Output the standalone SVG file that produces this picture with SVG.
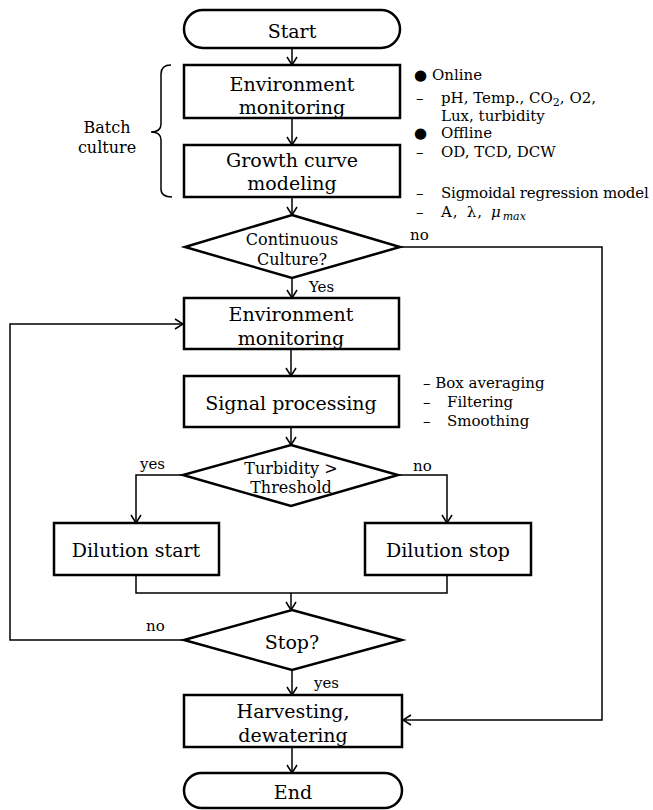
<svg xmlns="http://www.w3.org/2000/svg" width="653" height="810" viewBox="0 0 653 810">
<defs>
<style>
.box{fill:#fff;stroke:#000;stroke-width:2.5}
.ln{fill:none;stroke:#000;stroke-width:1.5}
.t{font-family:"DejaVu Serif","Liberation Serif",serif;font-size:19px;fill:#000;text-anchor:middle}
.d{font-family:"DejaVu Serif","Liberation Serif",serif;font-size:16px;fill:#000;text-anchor:middle}
.s{font-family:"DejaVu Serif","Liberation Serif",serif;font-size:15px;fill:#000}
</style>
<marker id="ar" viewBox="0 0 12 12" refX="11" refY="6" markerWidth="12" markerHeight="12" markerUnits="userSpaceOnUse" orient="auto">
<path d="M3,1 L11,6 L3,11" fill="none" stroke="#000" stroke-width="1.5"/>
</marker>
</defs>
<rect width="653" height="810" fill="#fff"/>

<g id="connectors">
<line class="ln" x1="292" y1="48" x2="292" y2="65" marker-end="url(#ar)"/>
<line class="ln" x1="292" y1="118" x2="292" y2="145" marker-end="url(#ar)"/>
<line class="ln" x1="292" y1="197" x2="292" y2="215" marker-end="url(#ar)"/>
<line class="ln" x1="292" y1="278" x2="292" y2="298" marker-end="url(#ar)"/>
<polyline class="ln" points="400,247 602,247 602,720 403,720" marker-end="url(#ar)"/>
<line class="ln" x1="291" y1="349" x2="291" y2="376" marker-end="url(#ar)"/>
<line class="ln" x1="291" y1="427" x2="291" y2="445" marker-end="url(#ar)"/>
<polyline class="ln" points="183,475 136,475 136,523" marker-end="url(#ar)"/>
<polyline class="ln" points="398,475 447,475 447,523" marker-end="url(#ar)"/>
<polyline class="ln" points="136,575 136,593 447,593 447,575"/>
<line class="ln" x1="291" y1="593" x2="291" y2="610" marker-end="url(#ar)"/>
<polyline class="ln" points="184,640 10,640 10,324 183,324" marker-end="url(#ar)"/>
<line class="ln" x1="292" y1="670" x2="292" y2="695" marker-end="url(#ar)"/>
<line class="ln" x1="292" y1="747" x2="292" y2="773" marker-end="url(#ar)"/>
<text class="s" x="410" y="240" font-size="15">no</text>
<text class="s" x="309" y="292" font-size="16">Yes</text>
<text class="s" x="140" y="469" font-size="16">yes</text>
<text class="s" x="413" y="471" font-size="16">no</text>
<text class="s" x="146" y="631" font-size="16">no</text>
<text class="s" x="314" y="688" font-size="16">yes</text>
</g>

<g id="start">
<rect class="box" x="184" y="10" width="216" height="38" rx="19" stroke-width="2"/>
<text class="t" x="292" y="38">Start</text>
</g>

<g id="env1">
<rect class="box" x="184" y="65" width="216" height="53"/>
<text class="t" x="292" y="91">Environment</text>
<text class="t" x="292" y="114">monitoring</text>
</g>

<g id="growth">
<rect class="box" x="184" y="145" width="216" height="52"/>
<text class="t" x="292" y="167">Growth curve</text>
<text class="t" x="292" y="190">modeling</text>
</g>

<g id="batch">
<path class="ln" d="M171,65 Q161,65 161,74 L161,124 Q161,132 151,132 Q161,132 161,140 L161,189 Q161,197 172,197"/>
<text class="d" x="107" y="133">Batch</text>
<text class="d" x="107" y="153">culture</text>
</g>

<g id="notes1">
<text class="s" x="414" y="80" font-size="16">●</text>
<text class="s" x="432" y="80">Online</text>
<text class="s" x="416" y="103">–</text>
<text class="s" x="441" y="103">pH, Temp., CO<tspan font-size="11" dy="3">2</tspan><tspan dy="-3">, O2,</tspan></text>
<text class="s" x="441" y="121">Lux, turbidity</text>
<text class="s" x="414" y="138" font-size="16">●</text>
<text class="s" x="441" y="138">Offline</text>
<text class="s" x="416" y="157">–</text>
<text class="s" x="441" y="157">OD, TCD, DCW</text>
<text class="s" x="416" y="198">–</text>
<text class="s" x="441" y="198" letter-spacing="-0.2">Sigmoidal regression model</text>
<text class="s" x="416" y="217">–</text>
<text class="s" x="441" y="217">A<tspan dx="1">,</tspan><tspan dx="9">λ</tspan><tspan dx="1">,</tspan><tspan dx="9" font-style="italic">μ</tspan><tspan font-style="italic" font-size="11" dx="2" dy="3">max</tspan></text>
</g>

<g id="continuous">
<polygon class="box" points="292,215 400,247 292,278 185,247"/>
<text class="d" x="292" y="245">Continuous</text>
<text class="d" x="292" y="265">Culture?</text>
</g>

<g id="env2">
<rect class="box" x="184" y="298" width="215" height="51"/>
<text class="t" x="291" y="321">Environment</text>
<text class="t" x="291" y="345">monitoring</text>
</g>

<g id="signal">
<rect class="box" x="184" y="376" width="215" height="51"/>
<text class="t" x="291" y="410">Signal processing</text>
</g>

<g id="notes2">
<text class="s" x="423" y="388">– Box averaging</text>
<text class="s" x="423" y="407">–</text>
<text class="s" x="447" y="407">Filtering</text>
<text class="s" x="423" y="426">–</text>
<text class="s" x="447" y="426">Smoothing</text>
</g>

<g id="turbidity">
<polygon class="box" points="291,445 398,475 291,506 183,475"/>
<text class="d" x="291" y="474">Turbidity &gt;</text>
<text class="d" x="291" y="493">Threshold</text>
</g>

<g id="dilution-start">
<rect class="box" x="54" y="523" width="165" height="52"/>
<text class="t" x="136" y="557">Dilution start</text>
</g>

<g id="dilution-stop">
<rect class="box" x="365" y="523" width="166" height="52"/>
<text class="t" x="448" y="557">Dilution stop</text>
</g>

<g id="stop">
<polygon class="box" points="292,610 402,640 292,670 184,640"/>
<text class="t" x="292" y="649">Stop?</text>
</g>

<g id="harvest">
<rect class="box" x="184" y="695" width="218" height="52"/>
<text class="t" x="293" y="718">Harvesting,</text>
<text class="t" x="293" y="742">dewatering</text>
</g>

<g id="end">
<rect class="box" x="184" y="773" width="218" height="35" rx="17.5" stroke-width="2"/>
<text class="t" x="293" y="799">End</text>
</g>
</svg>
